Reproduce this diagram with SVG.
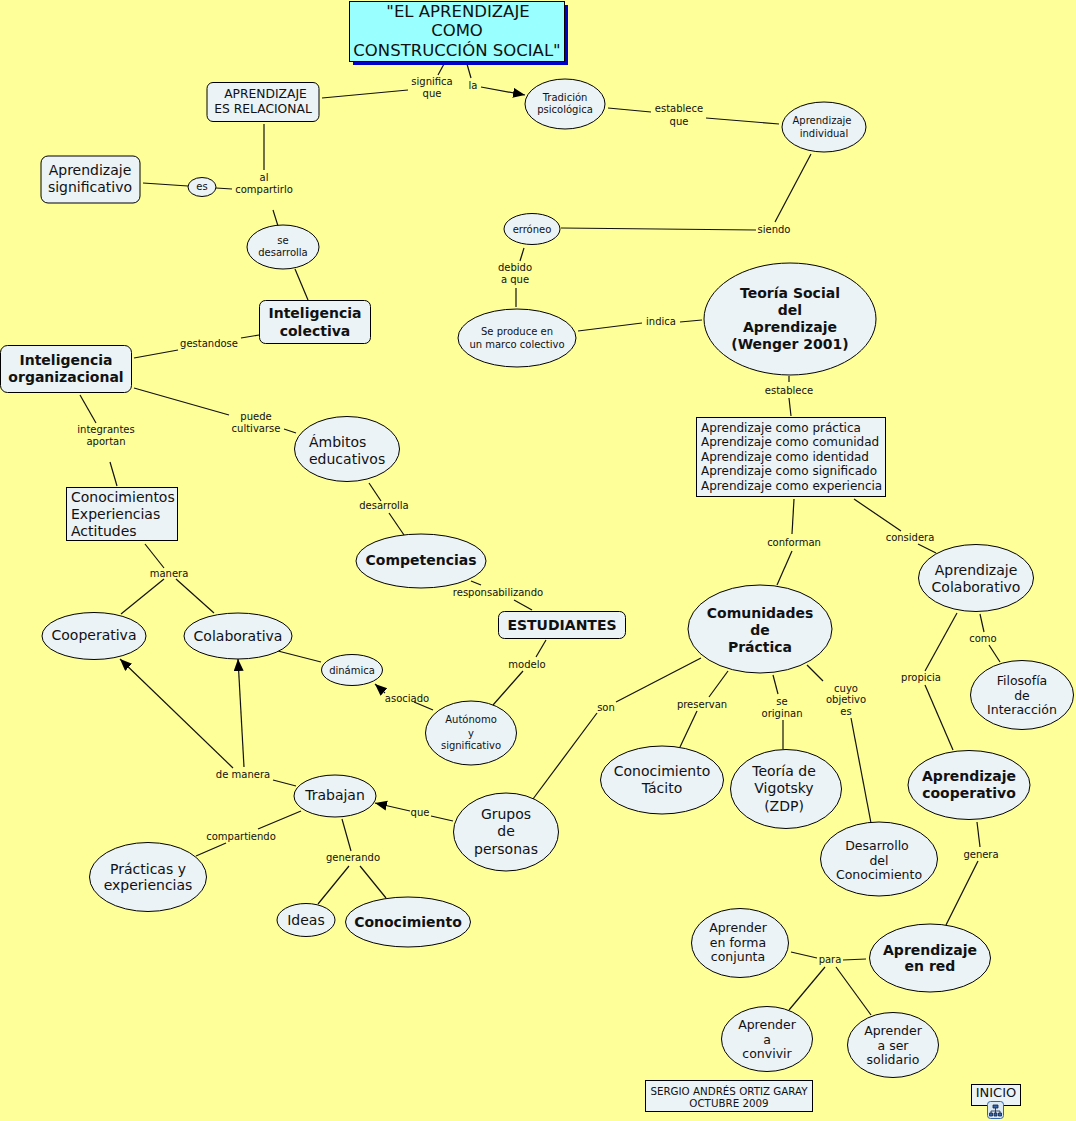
<svg xmlns="http://www.w3.org/2000/svg" width="1076" height="1121" viewBox="0 0 1076 1121">
<style>
text{font-family:"DejaVu Sans",Verdana,sans-serif;text-anchor:middle;fill:#111}
.n{fill:#ebf3f7;stroke:#000;stroke-width:1}
.l{font-size:10px}
.s{font-size:10px}
.m{font-size:14px}
.b{font-size:14px;font-weight:bold}
.st{text-anchor:start}
#c line{stroke:#111;stroke-width:1.2}
</style>
<defs><marker id="a" markerWidth="14" markerHeight="12" refX="12" refY="5" orient="auto" markerUnits="userSpaceOnUse"><path d="M0 0L12 5L0 10z" fill="#000"/></marker></defs>
<rect width="1076" height="1121" fill="#ffff99"/>
<g id="c">
<line x1="444" y1="64" x2="438" y2="75"/><line x1="467" y1="64" x2="471" y2="78"/>
<line x1="322" y1="98" x2="408" y2="90"/><line x1="481" y1="87" x2="525" y2="95" marker-end="url(#a)"/>
<line x1="608" y1="108" x2="651" y2="112"/><line x1="706" y1="118" x2="779" y2="124"/>
<line x1="811" y1="154" x2="775" y2="222"/><line x1="561" y1="228" x2="756" y2="230"/>
<line x1="524" y1="248" x2="520" y2="261"/><line x1="516" y1="288" x2="516" y2="307"/>
<line x1="578" y1="331" x2="642" y2="323"/><line x1="680" y1="322" x2="702" y2="320"/>
<line x1="789" y1="376" x2="789" y2="382"/><line x1="789" y1="398" x2="791" y2="416"/>
<line x1="794" y1="499" x2="792" y2="534"/><line x1="792" y1="551" x2="777" y2="585"/>
<line x1="854" y1="499" x2="901" y2="531"/><line x1="918" y1="544" x2="936" y2="553"/>
<line x1="957" y1="613" x2="925" y2="671"/><line x1="925" y1="685" x2="953" y2="750"/>
<line x1="980" y1="614" x2="984" y2="632"/><line x1="989" y1="645" x2="1000" y2="662"/>
<line x1="264" y1="124" x2="264" y2="170"/><line x1="273" y1="210" x2="278" y2="226"/>
<line x1="143" y1="183" x2="188" y2="186"/><line x1="216" y1="188" x2="232" y2="189"/>
<line x1="295" y1="269" x2="308" y2="300"/><line x1="259" y1="335" x2="241" y2="338"/>
<line x1="178" y1="350" x2="134" y2="358"/><line x1="134" y1="388" x2="229" y2="415"/>
<line x1="284" y1="429" x2="296" y2="433"/><line x1="80" y1="395" x2="96" y2="423"/>
<line x1="110" y1="462" x2="117" y2="486"/><line x1="369" y1="483" x2="381" y2="501"/>
<line x1="389" y1="513" x2="404" y2="535"/><line x1="471" y1="581" x2="481" y2="585"/>
<line x1="514" y1="600" x2="532" y2="610"/><line x1="546" y1="640" x2="536" y2="657"/>
<line x1="523" y1="671" x2="493" y2="705"/><line x1="145" y1="544" x2="164" y2="568"/>
<line x1="164" y1="579" x2="121" y2="614"/><line x1="176" y1="579" x2="214" y2="613"/>
<line x1="278" y1="651" x2="321" y2="662"/><line x1="433" y1="710" x2="414" y2="702"/>
<line x1="385" y1="693" x2="375" y2="684" marker-end="url(#a)"/>
<line x1="233" y1="768" x2="120" y2="659" marker-end="url(#a)"/>
<line x1="244" y1="767" x2="238" y2="659" marker-end="url(#a)"/>
<line x1="273" y1="780" x2="296" y2="786"/><line x1="453" y1="821" x2="431" y2="816"/>
<line x1="410" y1="811" x2="375" y2="803" marker-end="url(#a)"/>
<line x1="301" y1="811" x2="258" y2="829"/><line x1="226" y1="843" x2="196" y2="856"/>
<line x1="342" y1="819" x2="351" y2="851"/><line x1="349" y1="866" x2="318" y2="904"/>
<line x1="360" y1="866" x2="386" y2="898"/><line x1="701" y1="658" x2="616" y2="702"/>
<line x1="597" y1="713" x2="533" y2="799"/><line x1="728" y1="671" x2="709" y2="697"/>
<line x1="697" y1="711" x2="680" y2="747"/><line x1="773" y1="675" x2="778" y2="694"/>
<line x1="783" y1="720" x2="783" y2="749"/><line x1="807" y1="665" x2="823" y2="681"/>
<line x1="851" y1="718" x2="871" y2="823"/><line x1="977" y1="822" x2="980" y2="847"/>
<line x1="978" y1="861" x2="946" y2="925"/><line x1="791" y1="952" x2="817" y2="958"/>
<line x1="843" y1="960" x2="866" y2="959"/><line x1="825" y1="967" x2="789" y2="1010"/>
<line x1="836" y1="967" x2="871" y2="1015"/>
</g>
<g id="labels">
<text class="l" x="432" y="85">significa</text><text class="l" x="432" y="97">que</text>
<text class="l" x="473" y="89">la</text>
<text class="l" x="679" y="112">establece</text><text class="l" x="679" y="125">que</text>
<text class="l" x="774" y="233">siendo</text>
<text class="l" x="515" y="271">debido</text><text class="l" x="515" y="283">a que</text>
<text class="l" x="661" y="325">indica</text><text class="l" x="789" y="394">establece</text>
<text class="l" x="794" y="546">conforman</text><text class="l" x="910" y="541">considera</text>
<text class="l" x="921" y="681">propicia</text><text class="l" x="983" y="642">como</text>
<text class="l" x="264" y="181">al</text><text class="l" x="264" y="193">compartirlo</text>
<text class="l" x="209" y="347">gestandose</text>
<text class="l" x="256" y="420">puede</text><text class="l" x="256" y="432">cultivarse</text>
<text class="l" x="106" y="433">integrantes</text><text class="l" x="106" y="445">aportan</text>
<text class="l" x="384" y="509">desarrolla</text><text class="l" x="498" y="596">responsabilizando</text>
<text class="l" x="527" y="668">modelo</text><text class="l" x="169" y="577">manera</text>
<text class="l" x="407" y="702">asociado</text><text class="l" x="243" y="778">de manera</text>
<text class="l" x="420" y="816">que</text><text class="l" x="241" y="840">compartiendo</text>
<text class="l" x="353" y="861">generando</text><text class="l" x="606" y="711">son</text>
<text class="l" x="702" y="708">preservan</text>
<text class="l" x="782" y="705">se</text><text class="l" x="782" y="717">originan</text>
<text class="l" x="846" y="692">cuyo</text><text class="l" x="846" y="703">objetivo</text><text class="l" x="846" y="715">es</text>
<text class="l" x="981" y="858">genera</text><text class="l" x="830" y="963">para</text>
</g>
<g id="n-title"><rect x="353" y="5" width="215" height="60" fill="#0000c8"/><rect x="349.500" y="1.500" width="215" height="60" fill="#99ffff" stroke="#000"/>
<text x="458" y="17" font-size="16.500">"EL APRENDIZAJE</text><text x="457" y="36" font-size="16.500">COMO</text><text x="457" y="56" font-size="16.500">CONSTRUCCIÓN SOCIAL"</text></g>
<g id="n-relacional"><rect class="n" x="207" y="82.500" width="112" height="39" rx="6"/><text x="265.500" y="98" font-size="12.300">APRENDIZAJE</text><text x="263" y="113" font-size="12.300">ES RELACIONAL</text></g>
<g id="n-tradicion"><ellipse class="n" cx="565" cy="104" rx="40" ry="25"/><text class="s" x="565" y="101">Tradición</text><text class="s" x="565" y="113">psicológica</text></g>
<g id="n-individual"><ellipse class="n" cx="824" cy="127" rx="42" ry="25"/><text class="s" x="822" y="124">Aprendizaje</text><text class="s" x="824" y="137">individual</text></g>
<g id="n-significativo"><rect class="n" x="41" y="156" width="99" height="47" rx="7"/><text class="m" x="90" y="175">Aprendizaje</text><text class="m" x="90" y="192">significativo</text></g>
<g id="n-es"><ellipse class="n" cx="202" cy="187" rx="14" ry="9.500"/><text class="s" x="202" y="190">es</text></g>
<g id="n-erroneo"><ellipse class="n" cx="532" cy="229" rx="28" ry="15.500"/><text class="s" x="532" y="233">erróneo</text></g>
<g id="n-desarrolla"><ellipse class="n" cx="283" cy="247" rx="36" ry="22"/><text class="s" x="283" y="244">se</text><text class="s" x="283" y="256">desarrolla</text></g>
<g id="n-colectiva"><rect class="n" x="259.500" y="300.500" width="111" height="43" rx="6"/><text class="b" x="315" y="318">Inteligencia</text><text class="b" x="315" y="336">colectiva</text></g>
<g id="n-organizacional"><rect class="n" x="0.500" y="345.500" width="131" height="47" rx="7"/><text class="b" x="66" y="365">Inteligencia</text><text class="b" x="66" y="382">organizacional</text></g>
<g id="n-marco"><ellipse class="n" cx="517" cy="338" rx="59" ry="29"/><text class="s" x="517" y="335">Se produce en</text><text class="s" x="517" y="348">un marco colectivo</text></g>
<g id="n-wenger"><ellipse class="n" cx="790" cy="319" rx="86" ry="56"/><text class="b" x="790" y="298">Teoría Social</text><text class="b" x="790" y="315">del</text><text class="b" x="790" y="332">Aprendizaje</text><text class="b" x="790" y="349">(Wenger 2001)</text></g>
<g id="n-aprendizaje-como"><rect class="n" x="696.500" y="417.500" width="189" height="79"/>
<text class="st" x="701" y="432" font-size="12">Aprendizaje como práctica</text><text class="st" x="701" y="446" font-size="12">Aprendizaje como comunidad</text><text class="st" x="701" y="461" font-size="12">Aprendizaje como identidad</text><text class="st" x="701" y="475" font-size="12">Aprendizaje como significado</text><text class="st" x="701" y="490" font-size="12">Aprendizaje como experiencia</text></g>
<g id="n-ambitos"><ellipse class="n" cx="347" cy="449" rx="52.500" ry="32.500"/><text class="m st" x="309" y="447">Ámbitos</text><text class="m st" x="309" y="464">educativos</text></g>
<g id="n-conocimientos"><rect class="n" x="66.500" y="487.500" width="111" height="53"/><text class="m st" x="71" y="502">Conocimientos</text><text class="m st" x="71" y="519">Experiencias</text><text class="m st" x="71" y="536">Actitudes</text></g>
<g id="n-competencias"><ellipse class="n" cx="421" cy="561" rx="65" ry="27"/><text class="b" x="421" y="565">Competencias</text></g>
<g id="n-colaborativo"><ellipse class="n" cx="976" cy="578" rx="57.500" ry="33.500"/><text class="m" x="976" y="575">Aprendizaje</text><text class="m" x="976" y="592">Colaborativo</text></g>
<g id="n-estudiantes"><rect class="n" x="498.500" y="611.500" width="127" height="27" rx="6"/><text class="b" x="562" y="630">ESTUDIANTES</text></g>
<g id="n-comunidades"><ellipse class="n" cx="760" cy="629" rx="72" ry="44"/><text class="b" x="760" y="618">Comunidades</text><text class="b" x="760" y="635">de</text><text class="b" x="760" y="652">Práctica</text></g>
<g id="n-cooperativa"><ellipse class="n" cx="94" cy="636" rx="52" ry="23.500"/><text class="m" x="94" y="640">Cooperativa</text></g>
<g id="n-colaborativa"><ellipse class="n" cx="238" cy="636" rx="54" ry="23"/><text class="m" x="238" y="641">Colaborativa</text></g>
<g id="n-dinamica"><ellipse class="n" cx="352" cy="670" rx="30.500" ry="15.500"/><text class="s" x="352" y="674">dinámica</text></g>
<g id="n-filosofia"><ellipse class="n" cx="1022" cy="695" rx="51.500" ry="34.500"/><text x="1022" y="685" font-size="12.500">Filosofía</text><text x="1022" y="700" font-size="12.500">de</text><text x="1022" y="714" font-size="12.500">Interacción</text></g>
<g id="n-autonomo"><ellipse class="n" cx="471" cy="733" rx="45.500" ry="32"/><text class="s" x="471" y="723">Autónomo</text><text class="s" x="471" y="737">y</text><text class="s" x="471" y="749">significativo</text></g>
<g id="n-tacito"><ellipse class="n" cx="662" cy="780" rx="61.500" ry="34"/><text class="m" x="662" y="776">Conocimiento</text><text class="m" x="662" y="793">Tácito</text></g>
<g id="n-vigotsky"><ellipse class="n" cx="786" cy="789" rx="55.500" ry="39.500"/><text class="m" x="784" y="776">Teoría de</text><text class="m" x="784" y="793">Vigotsky</text><text class="m" x="784" y="811">(ZDP)</text></g>
<g id="n-trabajan"><ellipse class="n" cx="335" cy="796" rx="41" ry="21"/><text class="m" x="335" y="800">Trabajan</text></g>
<g id="n-cooperativo"><ellipse class="n" cx="969" cy="785" rx="61" ry="34.500"/><text class="b" x="969" y="781">Aprendizaje</text><text class="b" x="969" y="798">cooperativo</text></g>
<g id="n-grupos"><ellipse class="n" cx="506" cy="832" rx="52.500" ry="39"/><text class="m" x="506" y="819">Grupos</text><text class="m" x="506" y="836">de</text><text class="m" x="506" y="854">personas</text></g>
<g id="n-practicas"><ellipse class="n" cx="148" cy="877" rx="58.500" ry="34.500"/><text class="m" x="148" y="874">Prácticas y</text><text class="m" x="148" y="890">experiencias</text></g>
<g id="n-desarrollo"><ellipse class="n" cx="879" cy="859" rx="58.500" ry="37"/><text x="877" y="850" font-size="12.500">Desarrollo</text><text x="879" y="865" font-size="12.500">del</text><text x="879" y="879" font-size="12.500">Conocimiento</text></g>
<g id="n-ideas"><ellipse class="n" cx="306" cy="920" rx="29" ry="16.500"/><text class="m" x="306" y="925">Ideas</text></g>
<g id="n-conocimiento"><ellipse class="n" cx="408" cy="922" rx="62.500" ry="25"/><text class="b" x="408" y="927">Conocimiento</text></g>
<g id="n-conjunta"><ellipse class="n" cx="740" cy="943" rx="48.500" ry="34.500"/><text x="738" y="932" font-size="12.500">Aprender</text><text x="738" y="947" font-size="12.500">en forma</text><text x="738" y="961" font-size="12.500">conjunta</text></g>
<g id="n-red"><ellipse class="n" cx="930" cy="958" rx="60.500" ry="34"/><text class="b" x="930" y="955">Aprendizaje</text><text class="b" x="930" y="971">en red</text></g>
<g id="n-convivir"><ellipse class="n" cx="767" cy="1039" rx="45.500" ry="32.500"/><text x="767" y="1029" font-size="12.500">Aprender</text><text x="767" y="1044" font-size="12.500">a</text><text x="767" y="1058" font-size="12.500">convivir</text></g>
<g id="n-solidario"><ellipse class="n" cx="893" cy="1045" rx="45.500" ry="32.500"/><text x="893" y="1035" font-size="12.500">Aprender</text><text x="893" y="1050" font-size="12.500">a ser</text><text x="893" y="1064" font-size="12.500">solidario</text></g>
<g id="n-autor"><rect class="n" x="645.500" y="1080.500" width="167" height="31"/><text x="729" y="1095" font-size="10.300">SERGIO ANDRÉS ORTIZ GARAY</text><text x="729" y="1107" font-size="10.300">OCTUBRE 2009</text></g>
<g id="n-inicio"><rect class="n" x="971.500" y="1084.500" width="49" height="21"/><text x="996" y="1097" font-size="13">INICIO</text>
<rect x="987.500" y="1101.500" width="16" height="17" rx="3" fill="#dbe9f4" stroke="#36a"/><path d="M993 1105h5v3h-5zM995.500 1108v3M991 1111h9M991 1111v2M1000 1111v2M995.500 1111v2M989.500 1113h3v3h-3zM994 1113h3v3h-3zM998.500 1113h3v3h-3z" fill="#36a" stroke="#124" stroke-width=".8"/></g>
</svg>
